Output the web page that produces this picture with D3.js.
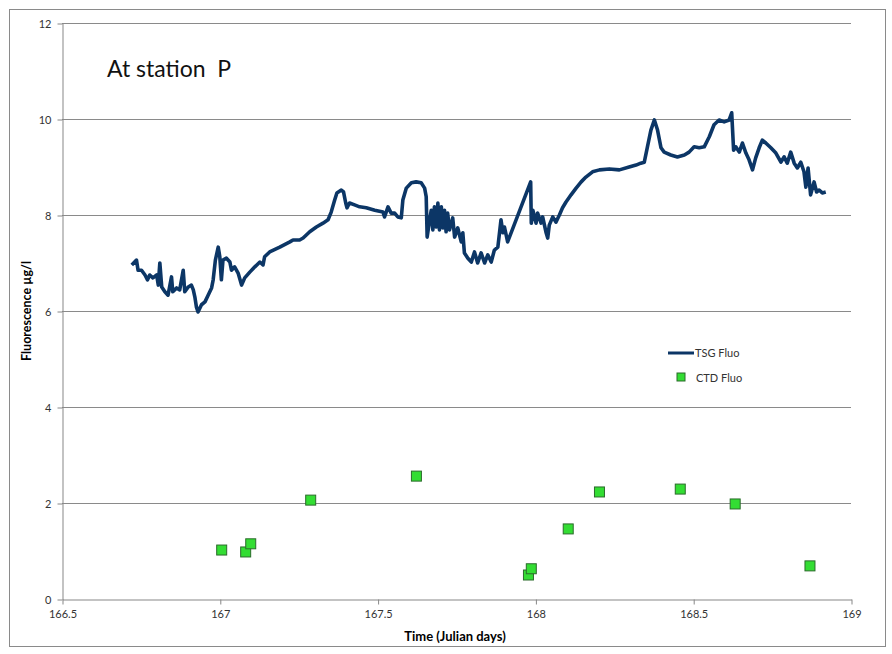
<!DOCTYPE html>
<html>
<head>
<meta charset="utf-8">
<script src="https://cdn.jsdelivr.net/npm/d3@7"></script>
<style>
  body { margin: 0; background: #fff; }
  text { font-family: Lato, "Open Sans", sans-serif; }
  .axis text { fill: #333; font-size: 11px; }
  .axis path, .axis line { stroke: #878787; }
</style>
</head>
<body>
<div id="chart"></div>
<script>
// TSG fluorescence trace
const tsgDay = [166.721,166.736,166.741,166.752,166.763,166.771,166.778,166.788,166.800,166.805,
  166.810,166.816,166.826,166.836,166.847,166.851,166.863,166.873,166.884,166.889,
  166.900,166.910,166.916,166.921,166.926,166.931,166.942,166.953,166.963,166.974,
  166.979,166.986,166.995,167.000,167.005,167.010,167.021,167.032,167.037,167.047,
  167.058,167.069,167.079,167.095,167.111,167.127,167.137,167.142,167.158,167.190,
  167.222,167.232,167.253,167.264,167.285,167.306,167.327,167.343,167.353,167.364,
  167.371,167.385,167.392,167.399,167.403,167.411,167.427,167.443,167.464,167.491,
  167.517,167.522,167.533,167.543,167.554,167.564,167.575,167.580,167.591,167.607,
  167.622,167.638,167.649,167.654,167.657,167.665,167.670,167.675,167.680,167.686,
  167.691,167.696,167.702,167.707,167.712,167.717,167.722,167.728,167.738,167.744,
  167.754,167.765,167.770,167.775,167.786,167.797,167.807,167.817,167.828,167.839,
  167.849,167.860,167.870,167.881,167.891,167.897,167.902,167.912,167.985,167.987,
  167.992,168.002,168.007,168.018,168.023,168.034,168.039,168.044,168.055,168.065,
  168.076,168.086,168.097,168.113,168.129,168.145,168.160,168.181,168.203,168.234,
  168.266,168.297,168.319,168.334,168.345,168.355,168.366,168.377,168.387,168.398,
  168.408,168.429,168.450,168.472,168.487,168.503,168.519,168.535,168.551,168.566,
  168.582,168.598,168.614,168.622,168.628,168.635,168.646,168.656,168.667,168.677,
  168.688,168.698,168.709,168.719,168.730,168.746,168.762,168.778,168.788,168.798,
  168.809,168.820,168.830,168.841,168.851,168.857,168.864,168.872,168.883,168.891,
  168.899,168.909,168.920]
const tsgFluo = [6.96,7.06,6.85,6.85,6.75,6.65,6.75,6.69,6.75,6.54,
  7.00,6.50,6.40,6.33,6.71,6.40,6.48,6.44,6.85,6.40,
  6.50,6.54,6.44,6.29,6.08,5.98,6.13,6.19,6.33,6.48,
  6.65,7.06,7.33,7.13,6.65,7.06,7.10,7.02,6.85,6.92,
  6.79,6.54,6.69,6.81,6.92,7.02,6.96,7.13,7.23,7.33,
  7.44,7.48,7.48,7.52,7.65,7.75,7.83,7.90,8.06,8.31,
  8.46,8.52,8.48,8.25,8.15,8.25,8.21,8.17,8.15,8.10,
  8.06,7.96,8.17,8.04,8.04,7.96,7.94,8.31,8.56,8.67,
  8.69,8.67,8.56,8.38,7.54,7.90,8.10,7.69,8.17,7.75,
  8.25,7.69,8.17,7.73,8.10,7.65,8.04,7.69,7.94,7.54,
  7.73,7.44,7.63,7.21,7.10,7.02,7.23,7.00,7.21,7.00,
  7.17,7.02,7.27,7.33,7.90,7.63,7.75,7.44,8.69,7.83,
  8.10,7.83,8.04,7.83,7.96,7.63,7.52,7.79,7.96,7.85,
  8.00,8.15,8.27,8.42,8.56,8.69,8.79,8.90,8.94,8.96,
  8.94,9.00,9.04,9.08,9.10,9.42,9.77,9.98,9.77,9.40,
  9.31,9.25,9.21,9.25,9.31,9.42,9.40,9.42,9.63,9.88,
  9.98,9.94,9.98,10.13,9.35,9.42,9.31,9.50,9.29,9.15,
  8.94,9.19,9.40,9.56,9.50,9.40,9.29,9.10,9.21,9.08,
  9.31,9.08,8.98,9.10,8.90,8.58,8.98,8.42,8.69,8.48,
  8.52,8.46,8.48]

// CTD bottle fluorescence
const ctdDay = [167.006, 167.082, 167.098, 167.288, 167.623, 167.978, 167.987, 168.104, 168.203, 168.459, 168.633, 168.870]
const ctdFluo = [1.02, 0.98, 1.15, 2.06, 2.56, 0.50, 0.63, 1.46, 2.23, 2.29, 1.98, 0.69]

const xTicks = [166.5, 167, 167.5, 168, 168.5, 169]
const yTicks = [0, 2, 4, 6, 8, 10, 12]

const W = 892, H = 654
const margin = {top: 23, right: 41, bottom: 55, left: 62}
const width = W - margin.left - margin.right,
      height = H - margin.top - margin.bottom

const svg = d3.select('#chart').append('svg')
    .attr('width', W)
    .attr('height', H)

// outer frame
svg.append('rect')
    .attr('x', 9.5).attr('y', 9.5)
    .attr('width', 876).attr('height', 637)
    .attr('fill', 'none')
    .attr('stroke', '#8a8a8a')

const g = svg.append('g')
    .attr('transform', `translate(${margin.left}, ${margin.top})`)

const x = d3.scaleLinear().domain([166.5, 169]).range([0, width])
const y = d3.scaleLinear().domain([0, 12]).range([height, 0])

// gridlines
g.append('g')
    .selectAll('line')
    .data(yTicks.filter(d => d > 0))
    .enter().append('line')
    .attr('x1', 0).attr('x2', width)
    .attr('y1', d => Math.round(y(d)) + 0.5)
    .attr('y2', d => Math.round(y(d)) + 0.5)
    .attr('stroke', '#8a8a8a')

// Y axis
g.append('g')
    .attr('class', 'axis')
    .attr('transform', 'translate(0.5, 0.5)')
    .call(d3.axisLeft(y).tickValues(yTicks).tickSize(5).tickSizeOuter(0).tickPadding(6))

// X axis
g.append('g')
    .attr('class', 'axis')
    .attr('transform', `translate(0.5, ${height + 0.5})`)
    .call(d3.axisBottom(x).tickValues(xTicks).tickFormat(d3.format('')).tickSize(5).tickSizeOuter(0).tickPadding(6))

// TSG line
const tsg = tsgDay.map((d, i) => ({day: d, v: tsgFluo[i]}))
g.append('path')
    .datum(tsg)
    .attr('fill', 'none')
    .attr('stroke', '#0c3666')
    .attr('stroke-width', 3.6)
    .attr('stroke-linejoin', 'round')
    .attr('d', d3.line().x(d => x(d.day)).y(d => y(d.v)))

// CTD squares
const ctd = ctdDay.map((d, i) => ({day: d, v: ctdFluo[i]}))
g.selectAll('rect.ctd')
    .data(ctd)
    .enter().append('rect')
    .attr('class', 'ctd')
    .attr('x', d => x(d.day) - 5)
    .attr('y', d => y(d.v) - 5)
    .attr('width', 10).attr('height', 10)
    .attr('fill', '#33dd33')
    .attr('stroke', '#2b6b2b')

// title inside plot
svg.append('text')
    .attr('x', 107).attr('y', 77)
    .style('font-size', '23px')
    .attr('fill', '#111')
    .attr('xml:space', 'preserve')
    .text('At station  P')

// axis titles
svg.append('text')
    .attr('transform', 'translate(31, 311) rotate(-90)')
    .style('text-anchor', 'middle')
    .style('font-size', '12.5px')
    .style('font-weight', 'bold')
    .text('Fluorescence µg/l')

svg.append('text')
    .attr('x', 455).attr('y', 641)
    .style('text-anchor', 'middle')
    .style('font-size', '13px')
    .style('font-weight', 'bold')
    .text('Time (Julian days)')

// legend
const leg = svg.append('g')
leg.append('line')
    .attr('x1', 668).attr('x2', 694)
    .attr('y1', 353).attr('y2', 353)
    .attr('stroke', '#0c3666').attr('stroke-width', 3)
leg.append('text')
    .attr('x', 695).attr('y', 357)
    .style('font-size', '11px').attr('fill', '#333')
    .text('TSG Fluo')
leg.append('rect')
    .attr('x', 677).attr('y', 373).attr('width', 8).attr('height', 8)
    .attr('fill', '#33dd33').attr('stroke', '#2b6b2b')
leg.append('text')
    .attr('x', 696).attr('y', 382)
    .style('font-size', '11px').attr('fill', '#333')
    .text('CTD Fluo')
</script>
</body>
</html>
